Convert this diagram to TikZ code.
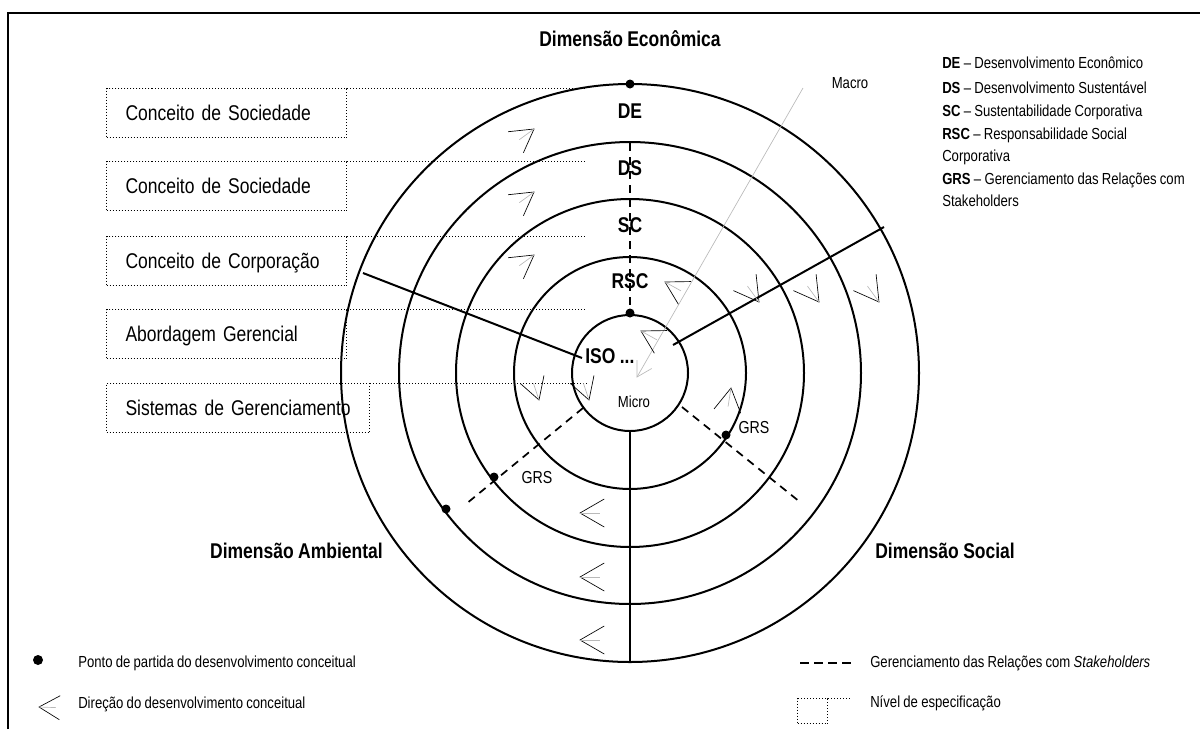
\documentclass[tikz,border=0pt]{standalone}
\usepackage{fontspec}
\setmainfont{Liberation Sans}[FakeStretch=0.82, WordSpace=0.9]
% chevron: tip x, tip y, pointing direction (deg), arm length
\newcommand\drawchev[4]{%
  \draw[chevarm] (#1,#2) ++({#3+150}:#4) -- (#1,#2) -- ++({#3+210}:#4);
  \draw[chevmid] (#1,#2) -- ++({#3+180}:{0.7*#4});
}
\begin{document}
\begin{tikzpicture}[x=0.75pt,y=-0.75pt,
  ring/.style={line width=1.5pt},
  spoke/.style={line width=1.5pt},
  grsline/.style={line width=1.3pt, dash pattern=on 6pt off 4.5pt},
  dotline/.style={line width=0.75pt, dash pattern=on 0.75pt off 1.5pt},
  chevarm/.style={line width=0.5pt},
  chevmid/.style={line width=0.5pt, gray!55},
  lbl/.style={inner sep=0pt},
  big/.style={lbl, font=\fontsize{16}{19}\selectfont},
  bigb/.style={lbl, font=\bfseries\fontsize{16}{19}\selectfont},
  small/.style={lbl, font=\fontsize{12}{14}\selectfont},
  mid/.style={lbl, font=\fontsize{13}{15}\selectfont},
  levelbox/.style={draw, dotline, anchor=north west, inner sep=0pt,
    minimum height=36.75pt, align=left, text height=11.5pt, text depth=0pt,
    font=\fontsize{16}{19}\selectfont},
  startdot/.style={fill=black},
]
\useasboundingbox (0,0) rectangle (1200,729);

% frame
\draw[line width=2pt] (8,729) -- (8,13) -- (1200,13);

% levels of specification
\node[levelbox, text width=180pt] (b1) at (106,88)  {\hspace*{14.25pt}Conceito de Sociedade};
\node[levelbox, text width=180pt] (b2) at (106,161) {\hspace*{14.25pt}Conceito de Sociedade};
\node[levelbox, text width=180pt] (b3) at (106,236) {\hspace*{14.25pt}Conceito de Corporação};
\node[levelbox, text width=180pt] (b4) at (106,309) {\hspace*{14.25pt}Abordagem Gerencial};
\node[levelbox, text width=197.25pt] (b5) at (106,383) {\hspace*{14.25pt}Sistemas de Gerenciamento};
\coordinate (e1) at (587,88);
\coordinate (e2) at (587,161);
\coordinate (e3) at (587,236);
\coordinate (e4) at (587,309);
\coordinate (e5) at (587,383);
\foreach \i in {1,...,5} \draw[dotline] (b\i.north east) -- (e\i);

% concentric dimensions
\coordinate (c) at (630,373);
\foreach \r in {58,116,174,231,289} \draw[ring] (c) circle (\r);

% dimension boundaries
\coordinate (sl1) at (363,273); \coordinate (sl2) at (582,358);
\coordinate (sr1) at (673,345); \coordinate (sr2) at (884,227);
\coordinate (sb1) at (630,431); \coordinate (sb2) at (630,662);
\draw[spoke] (sl1) -- (sl2);
\draw[spoke] (sr1) -- (sr2);
\draw[spoke] (sb1) -- (sb2);

% circle labels
\node[bigb, anchor=base] (lDE)  at (630,118) {DE};
\node[bigb, anchor=base] (lDS)  at (630,175) {DS};
\node[bigb, anchor=base] (lSC)  at (630,232) {SC};
\node[bigb, anchor=base] (lRSC) at (630,288) {RSC};
\node[bigb, anchor=base west] (iso) at (585,363) {ISO ...};
\node[small, anchor=base] (micro) at (634,407) {Micro};
\node[small, anchor=base] (macro) at (850,88) {Macro};
\node[mid, anchor=base] (grs1) at (754,433) {GRS};
\node[mid, anchor=base] (grs2) at (537,483) {GRS};

% stakeholder relations
\coordinate (gv1) at (630,143); \coordinate (gv2) at (630,313);
\coordinate (gl1) at (583,408); \coordinate (gl2) at (466,504);
\coordinate (gr1) at (682,407); \coordinate (gr2) at (800,502);
\draw[grsline] (gv1) -- (gv2);
\draw[grsline] (gl1) -- (gl2);
\draw[grsline] (gr1) -- (gr2);

% starting points
\fill[startdot] (630,84) circle (4.5);
\fill[startdot] (630,313) circle (4.5);
\fill[startdot] (494,477) circle (4.5);
\fill[startdot] (446,509) circle (4.5);
\fill[startdot] (726,435) circle (4.5);

% micro-macro axis
\coordinate (mtop) at (803,88); \coordinate (mtip) at (637,377);
\draw[line width=0.5pt, gray!55] (mtop) -- (mtip);
\draw[line width=0.5pt, gray!55] (mtip) ++(270:17) -- (mtip) -- ++(330:17);

% directions of development
\drawchev{534}{129}{-36}{26}
\drawchev{534}{192}{-36}{26}
\drawchev{534}{255}{-36}{26}
\drawchev{759}{302}{54}{28}
\drawchev{819}{302}{54}{28}
\drawchev{879}{302}{54}{28}
\drawchev{665}{282}{209}{26}
\drawchev{641}{331}{209}{26}
\drawchev{539}{400}{71.5}{25}
\drawchev{589}{400}{71.5}{25}
\drawchev{731}{388}{279}{27}
\drawchev{580}{513}{180}{28}
\drawchev{580}{577}{180}{28}
\drawchev{580}{640}{180}{28}

% dimension titles
\node[bigb, anchor=base] (econ) at (630,46) {Dimensão Econômica};
\node[bigb, anchor=base east] (amb) at (383,558) {Dimensão Ambiental};
\node[bigb, anchor=base west] (soc) at (875,558) {Dimensão Social};

% abbreviations
\node[small, anchor=base west] (k1) at (942,68)  {\textbf{DE} – Desenvolvimento Econômico};
\node[small, anchor=base west] (k2) at (942,93)  {\textbf{DS} – Desenvolvimento Sustentável};
\node[small, anchor=base west] (k3) at (942,116) {\textbf{SC} – Sustentabilidade Corporativa};
\node[small, anchor=base west] (k4) at (942,139) {\textbf{RSC} – Responsabilidade Social};
\node[small, anchor=base west] (k4b) at (942,161) {Corporativa};
\node[small, anchor=base west] (k5) at (942,184) {\textbf{GRS} – Gerenciamento das Relações com};
\node[small, anchor=base west] (k5b) at (942,206) {Stakeholders};

% key
\fill[startdot] (38,660) circle (5);
\node[small, anchor=base west] (kdot) at (78,667) {Ponto de partida do desenvolvimento conceitual};
\drawchev{39}{707}{182}{24}
\node[small, anchor=base west] (kchev) at (78,708) {Direção do desenvolvimento conceitual};
\coordinate (kd1) at (800,663); \coordinate (kd2) at (852,663);
\draw[line width=1.3pt, dash pattern=on 7pt off 3.5pt] (kd1) -- (kd2);
\node[small, anchor=base west] (kgrs) at (870,667) {Gerenciamento das Relações com \textit{Stakeholders}};
\node[draw, dotline, anchor=north west, minimum width=22.5pt, minimum height=18.75pt, inner sep=0pt] (klvl) at (797,698) {};
\coordinate (klvlend) at (851,698);
\draw[dotline] (klvl.north east) -- (klvlend);
\node[small, anchor=base west] (klvltxt) at (870,707) {Nível de especificação};
\end{tikzpicture}
\end{document}
